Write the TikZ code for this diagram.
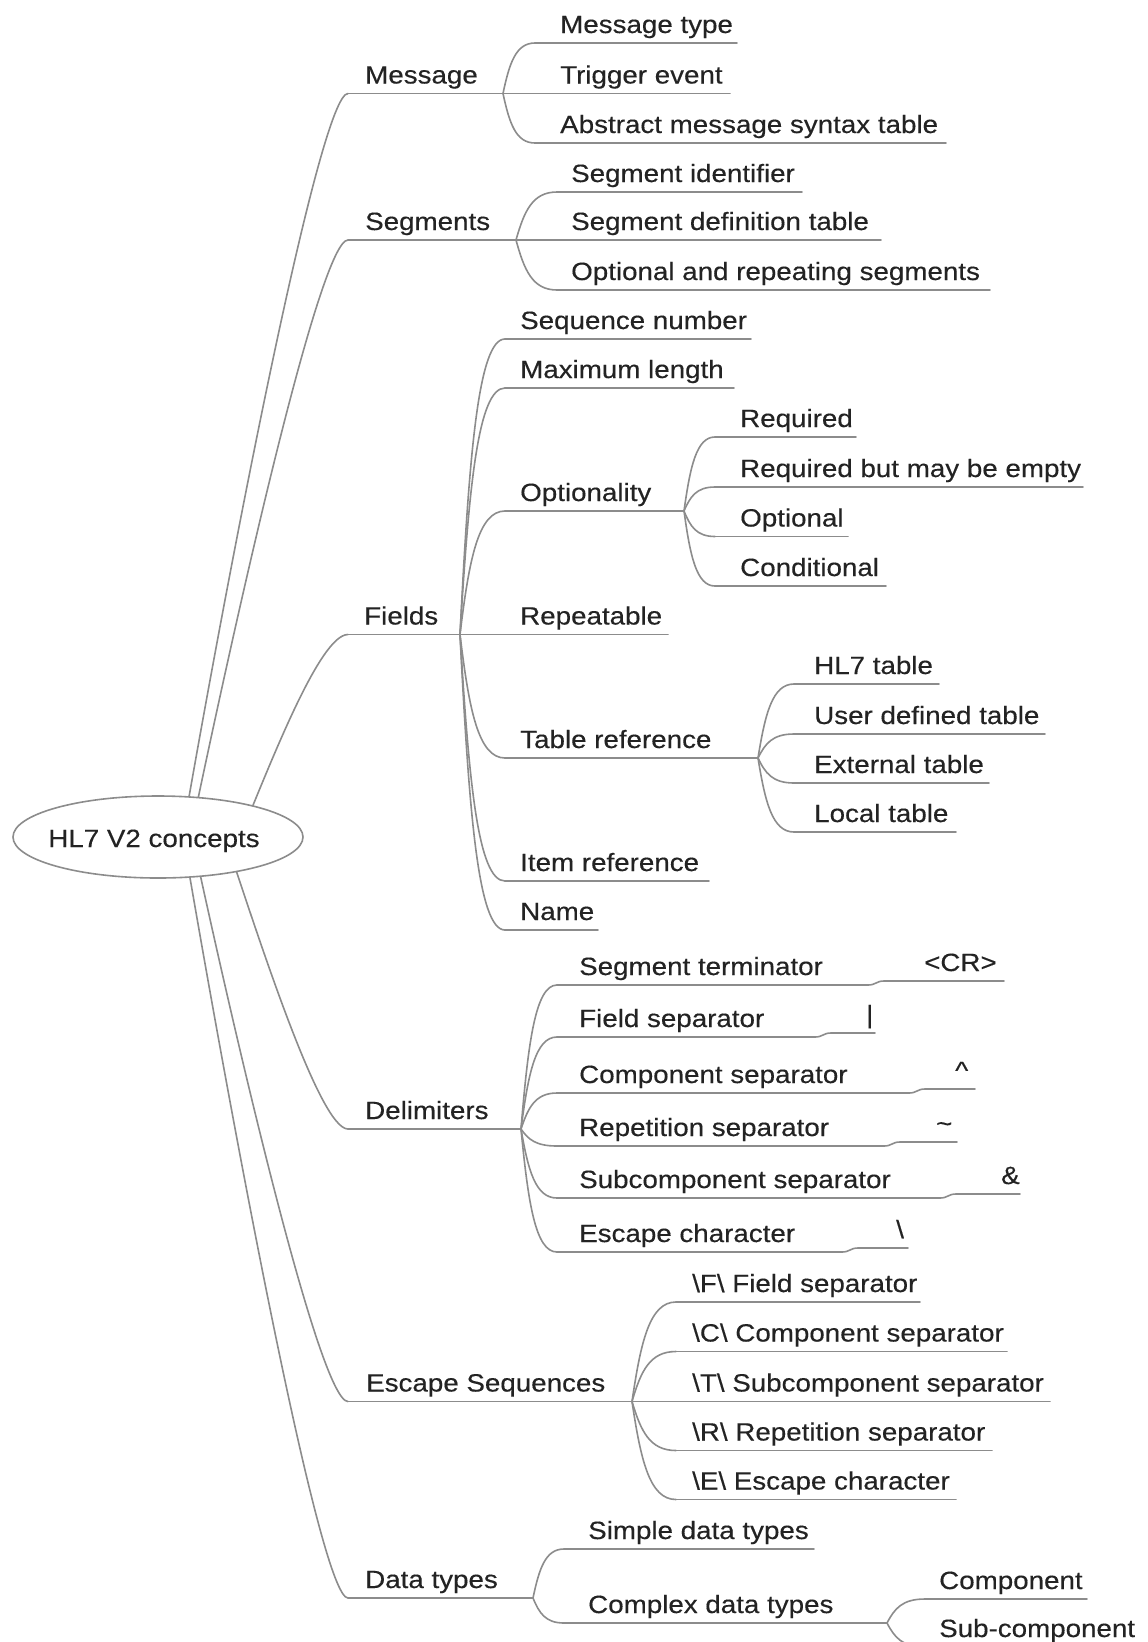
\documentclass[tikz,border=0pt]{standalone}
\usepackage{fontspec}
\newfontfamily\lbfont{Liberation Sans}[FakeStretch=1.11,FakeBold=0.3]
\usetikzlibrary{shapes.geometric,calc}
\pgfdeclarelayer{bg}
\pgfsetlayers{bg,main}
\definecolor{linegray}{RGB}{140,140,140}
\definecolor{txtgray}{RGB}{35,35,35}
% leaf: name, textx, cornerx, underline y, endx, text
\newcommand\mmleaf[6]{%
  \coordinate (#1-s) at (#3,#4);
  \coordinate (#1-e) at (#5,#4);
  \node[lbl] (#1) at (#2,{#4-10}) {#6};
  \begin{pgfonlayer}{bg}\draw[ln] (#1-s) -- (#1-e);\end{pgfonlayer}}
% connector from joint to child start
\newcommand\mmconn[2]{%
  \begin{pgfonlayer}{bg}\draw[ln] let \p1=(#1),\p2=(#2) in (\p1) .. controls ({\x1+0.2*(\x2-\x1)},{\y1+0.6*(\y2-\y1)}) and ({\x2-0.6*(\x2-\x1)},\y2) .. (\p2);\end{pgfonlayer}}
% value: name, u, stepx, endx, valx, text
\newcommand\mmval[6]{%
  \coordinate (#1-vs) at ({#3+16},{#2-4});
  \coordinate (#1-ve) at (#4,{#2-4});
  \node[lbl] (#1-v) at (#5,{#2-14}) {#6};
  \begin{pgfonlayer}{bg}\draw[ln] (#1-e) .. controls +(8,0) and +(-8,0) .. (#1-vs) -- (#1-ve);\end{pgfonlayer}}
\begin{document}
\begin{tikzpicture}[x=1pt,y=-1pt,
  ln/.style={draw=linegray,line width=1.6pt,line cap=round,line join=round},
  lbl/.style={anchor=base west,inner sep=0pt,text=txtgray,font=\lbfont\fontsize{25pt}{29pt}\selectfont}]
\useasboundingbox (0,0) rectangle (1148,1642);
\begin{pgfonlayer}{bg}\fill[white] (0,0) rectangle (1148,1642);\end{pgfonlayer}

% root
\node[ellipse,draw=linegray,line width=1.6pt,fill=white,minimum width=290pt,minimum height=82pt,inner sep=0pt] (root) at (158,837) {};
\node[lbl,anchor=base] (rootlbl) at (154,847) {HL7 V2 concepts};

% level 1
\mmleaf{msg}{365}{348}{93.5}{503}{Message}
\mmleaf{seg}{365}{348}{240}{516}{Segments}
\mmleaf{fld}{364}{348}{634.5}{460}{Fields}
\mmleaf{del}{365}{348}{1129}{521}{Delimiters}
\mmleaf{esc}{366}{348}{1401.5}{632}{Escape Sequences}
\mmleaf{dt}{365}{348}{1598}{533}{Data types}

\begin{pgfonlayer}{bg}
\draw[ln] ([xshift=24pt]root.center) .. controls (230,560) and (320,93.5) .. (msg-s);
\draw[ln] ([xshift=32pt]root.center) .. controls (236,616) and (320,240) .. (seg-s);
\draw[ln] ([xshift=82pt]root.center) .. controls (271,762) and (320,634.5) .. (fld-s);
\draw[ln] ([xshift=67pt]root.center) .. controls (261,945) and (320,1129) .. (del-s);
\draw[ln] ([xshift=34pt]root.center) .. controls (237,1046) and (320,1401.5) .. (esc-s);
\draw[ln] ([xshift=25pt]root.center) .. controls (231,1119) and (320,1598) .. (dt-s);
\end{pgfonlayer}

% Message
\mmleaf{mt}{560}{535}{43}{737}{Message type}
\mmleaf{te}{560}{535}{93.5}{730}{Trigger event}
\mmleaf{am}{560}{535}{143}{946}{Abstract message syntax table}
\mmconn{msg-e}{mt-s}\mmconn{msg-e}{te-s}\mmconn{msg-e}{am-s}

% Segments
\mmleaf{si}{571}{557}{192}{802}{Segment identifier}
\mmleaf{sd}{571}{557}{240}{881}{Segment definition table}
\mmleaf{so}{571}{557}{290}{990}{Optional and repeating segments}
\mmconn{seg-e}{si-s}\mmconn{seg-e}{sd-s}\mmconn{seg-e}{so-s}

% Fields
\mmleaf{sn}{520}{505}{339}{751}{Sequence number}
\mmleaf{ml}{520}{505}{388}{734}{Maximum length}
\mmleaf{op}{520}{505}{511}{684}{Optionality}
\mmleaf{rp}{520}{505}{634.5}{668}{Repeatable}
\mmleaf{tr}{520}{505}{758}{758}{Table reference}
\mmleaf{ir}{520}{505}{881}{709}{Item reference}
\mmleaf{nm}{520}{505}{930}{598}{Name}
\mmconn{fld-e}{sn-s}\mmconn{fld-e}{ml-s}\mmconn{fld-e}{op-s}\mmconn{fld-e}{rp-s}
\mmconn{fld-e}{tr-s}\mmconn{fld-e}{ir-s}\mmconn{fld-e}{nm-s}

% Optionality
\mmleaf{rq}{740}{715}{437}{856}{Required}
\mmleaf{rb}{740}{715}{487}{1083}{Required but may be empty}
\mmleaf{ol}{740}{715}{536.5}{848}{Optional}
\mmleaf{cd}{740}{715}{586}{886}{Conditional}
\mmconn{op-e}{rq-s}\mmconn{op-e}{rb-s}\mmconn{op-e}{ol-s}\mmconn{op-e}{cd-s}

% Table reference
\mmleaf{h7}{814}{794}{684}{939}{HL7 table}
\mmleaf{ud}{814}{794}{734}{1045}{User defined table}
\mmleaf{et}{814}{794}{783}{989}{External table}
\mmleaf{lt}{814}{794}{832}{956}{Local table}
\mmconn{tr-e}{h7-s}\mmconn{tr-e}{ud-s}\mmconn{tr-e}{et-s}\mmconn{tr-e}{lt-s}

% Delimiters
\mmleaf{st}{579}{557}{985}{868}{Segment terminator}
\mmval{st}{985}{868}{1004}{924}{<CR>}
\mmleaf{fs}{579}{557}{1037}{815}{Field separator}
\mmval{fs}{1037}{815}{875}{866}{|}
\mmleaf{cs}{579}{557}{1093}{909}{Component separator}
\mmval{cs}{1093}{909}{975}{955}{\textasciicircum}
\mmleaf{rs}{579}{557}{1146}{884}{Repetition separator}
\mmval{rs}{1146}{884}{957}{936}{\textasciitilde}
\mmleaf{ss}{579}{557}{1198}{940}{Subcomponent separator}
\mmval{ss}{1198}{940}{1020}{1001}{\&}
\mmleaf{ec}{579}{557}{1252}{842}{Escape character}
\mmval{ec}{1252}{842}{908}{896}{\textbackslash}
\mmconn{del-e}{st-s}\mmconn{del-e}{fs-s}\mmconn{del-e}{cs-s}
\mmconn{del-e}{rs-s}\mmconn{del-e}{ss-s}\mmconn{del-e}{ec-s}

% Escape sequences
\mmleaf{eF}{692}{676}{1302}{920}{\textbackslash F\textbackslash{} Field separator}
\mmleaf{eC}{692}{676}{1351.5}{1007}{\textbackslash C\textbackslash{} Component separator}
\mmleaf{eT}{692}{676}{1401.5}{1050}{\textbackslash T\textbackslash{} Subcomponent separator}
\mmleaf{eR}{692}{676}{1450.5}{992}{\textbackslash R\textbackslash{} Repetition separator}
\mmleaf{eE}{692}{676}{1499.5}{956}{\textbackslash E\textbackslash{} Escape character}
\mmconn{esc-e}{eF-s}\mmconn{esc-e}{eC-s}\mmconn{esc-e}{eT-s}\mmconn{esc-e}{eR-s}\mmconn{esc-e}{eE-s}

% Data types
\mmleaf{sdt}{588}{564}{1549}{814}{Simple data types}
\mmleaf{cdt}{588}{564}{1623}{887}{Complex data types}
\mmconn{dt-e}{sdt-s}\mmconn{dt-e}{cdt-s}
\mmleaf{cp}{939}{925}{1599}{1087}{Component}
\mmleaf{sc}{939}{925}{1647}{1092}{Sub-component}
\mmconn{cdt-e}{cp-s}\mmconn{cdt-e}{sc-s}
\end{tikzpicture}
\end{document}
